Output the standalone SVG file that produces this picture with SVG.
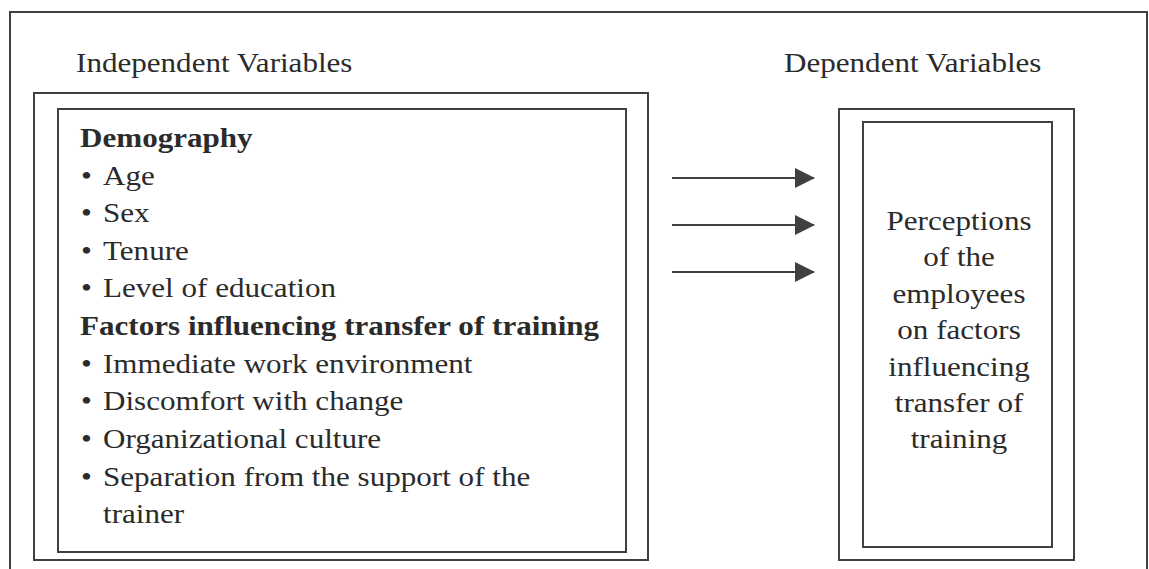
<svg xmlns="http://www.w3.org/2000/svg" width="1149" height="569" viewBox="0 0 1149 569">
  <style>
    .frame { fill: none; stroke: #404040; stroke-width: 2; }
    .txt { font-family: "Liberation Serif", "Times New Roman", serif; font-size: 28px; fill: #2b2b2b; }
    .b { font-weight: bold; }
    .mid { text-anchor: middle; }
    .conn { stroke: #404040; stroke-width: 2; fill: none; }
  </style>
  <defs>
    <marker id="head" viewBox="0 0 20 20" refX="19" refY="10" markerWidth="20" markerHeight="20" markerUnits="userSpaceOnUse" orient="auto">
      <path d="M0,0 L20,10 L0,20 Z" fill="#404040"/>
    </marker>
  </defs>
  <rect width="1149" height="569" fill="#ffffff"/>

  <!-- outer page frame (open at the bottom) -->
  <path class="frame" d="M10,575 V12 H1147 V575"/>

  <!-- the typeface is set a little wider than the stock serif: text groups use a horizontal scale of 1.11 -->
  <g transform="scale(1.11 1)">
    <text class="txt" x="68.5" y="72">Independent Variables</text>
    <text class="txt" x="706.3" y="72">Dependent Variables</text>
  </g>

  <g id="independent">
    <rect class="frame" x="34" y="93" width="614" height="467"/>
    <rect class="frame" x="58" y="109" width="568" height="443"/>
    <g transform="scale(1.11 1)">
      <text class="txt b" x="72.1" y="147">Demography</text>
      <text class="txt" x="73" y="185">•<tspan x="92.8">Age</tspan></text>
      <text class="txt" x="73" y="222">•<tspan x="92.8">Sex</tspan></text>
      <text class="txt" x="73" y="260">•<tspan x="92.8">Tenure</tspan></text>
      <text class="txt" x="73" y="297">•<tspan x="92.8">Level of education</tspan></text>
      <text class="txt b" x="72.1" y="335">Factors influencing transfer of training</text>
      <text class="txt" x="73" y="373">•<tspan x="92.8">Immediate work environment</tspan></text>
      <text class="txt" x="73" y="410">•<tspan x="92.8">Discomfort with change</tspan></text>
      <text class="txt" x="73" y="448">•<tspan x="92.8">Organizational culture</tspan></text>
      <text class="txt" x="73" y="486">•<tspan x="92.8">Separation from the support of the</tspan></text>
      <text class="txt" x="92.8" y="523">trainer</text>
    </g>
  </g>

  <g id="dependent">
    <rect class="frame" x="839" y="109" width="235" height="451"/>
    <rect class="frame" x="863" y="122" width="189" height="425"/>
    <g transform="scale(1.11 1)">
      <text class="txt mid" x="864" y="230">Perceptions</text>
      <text class="txt mid" x="864" y="266">of the</text>
      <text class="txt mid" x="864" y="303">employees</text>
      <text class="txt mid" x="864" y="339">on factors</text>
      <text class="txt mid" x="864" y="376">influencing</text>
      <text class="txt mid" x="864" y="412">transfer of</text>
      <text class="txt mid" x="864" y="448">training</text>
    </g>
  </g>

  <g id="connectors">
    <line class="conn" x1="672" y1="178" x2="814" y2="178" marker-end="url(#head)"/>
    <line class="conn" x1="672" y1="225" x2="814" y2="225" marker-end="url(#head)"/>
    <line class="conn" x1="672" y1="272" x2="814" y2="272" marker-end="url(#head)"/>
  </g>
</svg>
